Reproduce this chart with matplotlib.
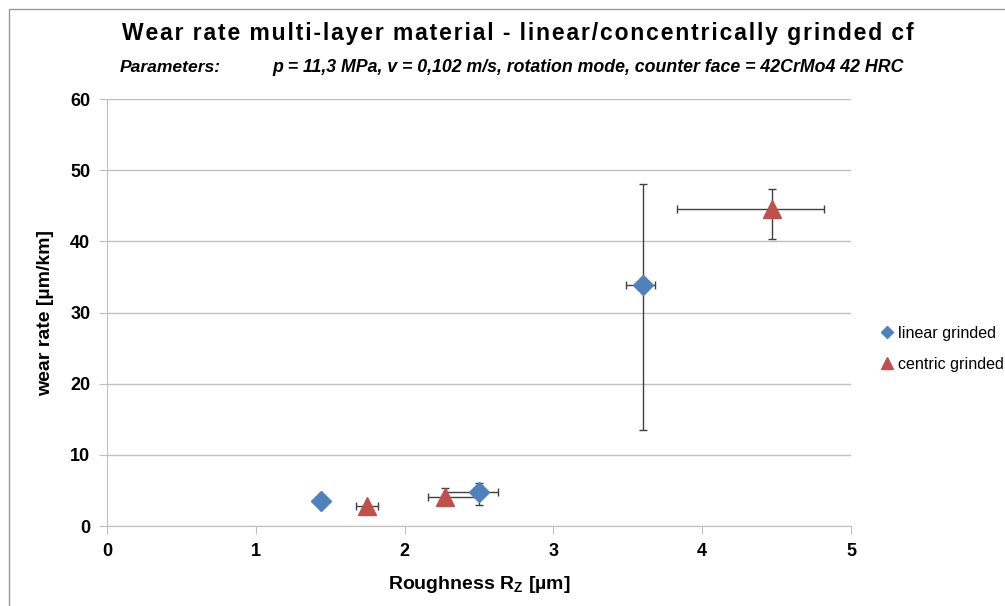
import matplotlib
matplotlib.use('Agg')
import matplotlib.pyplot as plt
from matplotlib.lines import Line2D

# linear grinded
lin_x = [1.44, 2.50, 3.60]
lin_y = [3.5, 4.8, 33.8]
lin_xerr_lo = [0.0, 0.22, 0.11]
lin_xerr_hi = [0.0, 0.13, 0.08]
lin_yerr_lo = [0.0, 1.85, 20.3]
lin_yerr_hi = [0.0, 1.2, 14.3]

# centric grinded
cen_x = [1.745, 2.27, 4.47]
cen_y = [2.85, 4.1, 44.6]
cen_xerr_lo = [0.07, 0.115, 0.64]
cen_xerr_hi = [0.075, 0.22, 0.35]
cen_yerr_lo = [0.0, 1.15, 4.3]
cen_yerr_hi = [0.0, 1.25, 2.75]

blue = '#4F81BD'
red = '#C0504D'
ecol = '#404040'

plt.rcParams['font.family'] = ['Liberation Sans', 'DejaVu Sans']

fig = plt.figure(figsize=(10.05, 6.06), dpi=100)
ax = fig.add_axes([0.1065, 0.132, 0.7403, 0.7046])

ax.errorbar(lin_x, lin_y, xerr=[lin_xerr_lo, lin_xerr_hi], yerr=[lin_yerr_lo, lin_yerr_hi],
            fmt='none', ecolor=ecol, elinewidth=1, capsize=3, capthick=1, zorder=2)
ax.errorbar(cen_x, cen_y, xerr=[cen_xerr_lo, cen_xerr_hi], yerr=[cen_yerr_lo, cen_yerr_hi],
            fmt='none', ecolor=ecol, elinewidth=1, capsize=3, capthick=1, zorder=2)
ax.plot(lin_x, lin_y, linestyle='none', marker='D', markersize=10,
        color=blue, zorder=3)
ax.plot(cen_x, cen_y, linestyle='none', marker='^', markersize=13,
        color=red, zorder=3)

ax.set_xlim(0, 5)
ax.set_ylim(0, 60)
ax.set_xticks(range(0, 6))
ax.set_yticks(range(0, 61, 10))
ax.grid(axis='y', color='#BFBFBF', linewidth=1)
ax.set_axisbelow(True)
for s in ['top', 'right']:
    ax.spines[s].set_visible(False)
for s in ['left', 'bottom']:
    ax.spines[s].set_color('#BFBFBF')
ax.tick_params(axis='both', direction='out', length=6, color='#BFBFBF',
               labelsize=13, pad=6)
for lbl in ax.get_xticklabels() + ax.get_yticklabels():
    lbl.set_fontweight('bold')

ax.set_xlabel('Roughness R$_\\mathregular{Z}$ [µm]', fontsize=14, fontweight='bold', labelpad=10)
ax.set_ylabel('wear rate [µm/km]', fontsize=14, fontweight='bold', labelpad=12)

title = 'Wear rate multi-layer material - linear/concentrically grinded cf'
spaced = '\u200a'.join(title).replace('\u200a \u200a', '\u2009\u2009')
fig.text(0.515, 0.945, spaced, ha='center', va='center', fontsize=16.5, fontweight='bold')
fig.text(0.119, 0.888, 'Parameters:', ha='left', va='center', fontsize=12.6,
         fontweight='bold', style='italic')
fig.text(0.271, 0.888, 'p = 11,3 MPa, v = 0,102 m/s, rotation mode, counter face = 42CrMo4 42 HRC',
         ha='left', va='center', fontsize=12.8, fontweight='bold', style='italic')

handles = [Line2D([], [], linestyle='none', marker='D', markersize=6, color=blue),
           Line2D([], [], linestyle='none', marker='^', markersize=8, color=red)]
fig.legend(handles, ['linear grinded', 'centric grinded'], loc='center left',
           bbox_to_anchor=(0.863, 0.424), frameon=False, fontsize=11.6,
           handlelength=0.6, handletextpad=0.4, labelspacing=1.0)

fig.add_artist(Line2D([0.009, 0.009, 1.0], [0.0, 0.985, 0.985],
                      transform=fig.transFigure, color='#999999', linewidth=1))

fig.savefig('out.png', dpi=100)
